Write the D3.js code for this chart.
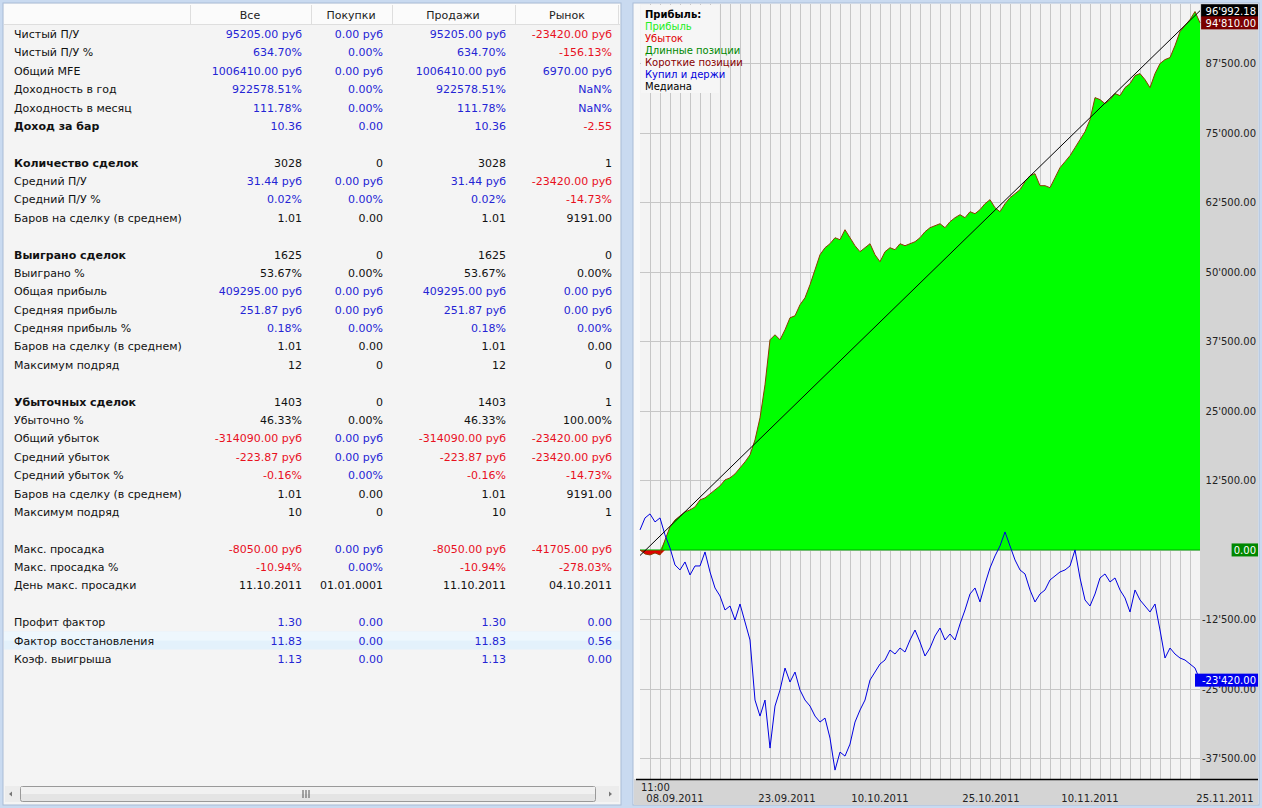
<!DOCTYPE html>
<html><head><meta charset="utf-8">
<script src="https://cdn.jsdelivr.net/npm/d3@7"></script>
<style>body{margin:0;background:#c9daf0;}svg{display:block;font-family:"DejaVu Sans",Verdana,sans-serif;}</style>
</head><body><svg id="c" width="1262" height="808"></svg>
<script>
// ---------- table data ----------
const colHeaders = ["Все", "Покупки", "Продажи", "Рынок"];
const rowLabels = ["Чистый П/У","Чистый П/У %","Общий MFE","Доходность в год","Доходность в месяц","Доход за бар","",
 "Количество сделок","Средний П/У","Средний П/У %","Баров на сделку (в среднем)","",
 "Выиграно сделок","Выиграно %","Общая прибыль","Средняя прибыль","Средняя прибыль %","Баров на сделку (в среднем)","Максимум подряд","",
 "Убыточных сделок","Убыточно %","Общий убыток","Средний убыток","Средний убыток %","Баров на сделку (в среднем)","Максимум подряд","",
 "Макс. просадка","Макс. просадка %","День макс. просадки","",
 "Профит фактор","Фактор восстановления","Коэф. выигрыша"];
const boldRows = [5, 7, 12, 20];
const blackRows = [7, 10, 12, 13, 17, 18, 20, 21, 25, 26, 30];
const colAll = ["95205.00 руб","634.70%","1006410.00 руб","922578.51%","111.78%","10.36","",
 "3028","31.44 руб","0.02%","1.01","",
 "1625","53.67%","409295.00 руб","251.87 руб","0.18%","1.01","12","",
 "1403","46.33%","-314090.00 руб","-223.87 руб","-0.16%","1.01","10","",
 "-8050.00 руб","-10.94%","11.10.2011","",
 "1.30","11.83","1.13"];
const colBuy = ["0.00 руб","0.00%","0.00 руб","0.00%","0.00%","0.00","",
 "0","0.00 руб","0.00%","0.00","",
 "0","0.00%","0.00 руб","0.00 руб","0.00%","0.00","0","",
 "0","0.00%","0.00 руб","0.00 руб","0.00%","0.00","0","",
 "0.00 руб","0.00%","01.01.0001","",
 "0.00","0.00","0.00"];
const colSell = ["95205.00 руб","634.70%","1006410.00 руб","922578.51%","111.78%","10.36","",
 "3028","31.44 руб","0.02%","1.01","",
 "1625","53.67%","409295.00 руб","251.87 руб","0.18%","1.01","12","",
 "1403","46.33%","-314090.00 руб","-223.87 руб","-0.16%","1.01","10","",
 "-8050.00 руб","-10.94%","11.10.2011","",
 "1.30","11.83","1.13"];
const colMarket = ["-23420.00 руб","-156.13%","6970.00 руб","NaN%","NaN%","-2.55","",
 "1","-23420.00 руб","-14.73%","9191.00","",
 "0","0.00%","0.00 руб","0.00 руб","0.00%","0.00","0","",
 "1","100.00%","-23420.00 руб","-23420.00 руб","-14.73%","9191.00","1","",
 "-41705.00 руб","-278.03%","04.10.2011","",
 "0.00","0.56","0.00"];
const highlightRow = 33;

// ---------- chart data (half-day steps, 08.09.2011 .. 25.11.2011) ----------
const equity = [0,-720,-900,-540,-900,1800,4140,5400,6120,6840,7200,7740,9000,9360,10080,10800,11520,12600,12960,13680,
 14760,15840,17100,19800,23760,29700,37800,38700,37800,39600,41760,42120,44100,45360,47700,50400,53100,54360,55080,56160,
 55800,57600,56160,54720,53640,54360,55080,53100,51840,53640,54360,54000,55080,54720,55080,55440,56160,57240,57960,58320,
 58680,57960,59040,59760,60300,59760,60840,60480,61200,62280,63000,61560,60840,62280,63360,64080,64800,66240,67320,67680,
 65520,65520,65160,66960,68760,69840,70920,72360,73800,75240,77400,81360,81000,80280,81000,82080,81720,83160,83880,85320,
 85680,84600,83160,85680,87480,88200,88560,90720,93240,94320,95400,96840,94810];
const buyHold = [3600,5760,6480,5040,5760,2700,360,-2700,-3600,-2160,-4500,-2880,-2880,-360,-3960,-6840,-8280,-10800,-10080,-12600,
 -9720,-12960,-16200,-27000,-29880,-27000,-35640,-28080,-25200,-21240,-23760,-21960,-25200,-27000,-28080,-29880,-30960,-30240,-33840,-39600,
 -36360,-37080,-34920,-30960,-28800,-27000,-23400,-21960,-20520,-19800,-18000,-18720,-17640,-18360,-16200,-14400,-16560,-19080,-17640,-15480,
 -14040,-16200,-15120,-16200,-13320,-10800,-7920,-6840,-9360,-6120,-3240,-1080,720,3240,720,-1800,-3600,-4320,-7200,-9360,
 -7920,-7200,-5400,-4680,-3960,-3600,-2880,0,-5040,-9000,-10080,-7920,-5040,-4320,-5760,-5040,-7200,-8640,-11160,-7200,
 -9000,-10080,-11160,-9720,-14400,-19440,-17640,-18720,-19440,-19800,-20520,-21240,-23420];
const median = [-1000, 96992.18];
const yTicks = [-37500,-25000,-12500,0,12500,25000,37500,50000,62500,75000,87500];
const dateLabels = ["08.09.2011","23.09.2011","10.10.2011","25.10.2011","10.11.2011","25.11.2011"];
const dateTickPos = [3.5, 14.7, 24, 35.1, 45, 58.5];
const legendItems = [["Прибыль:","#000",true],["Прибыль","#22ee22",false],["Убыток","#e00000",false],
 ["Длинные позиции","#008800",false],["Короткие позиции","#880000",false],["Купил и держи","#0000dd",false],["Медиана","#000",false]];
const badges = [[96992.18,"96'992.18","#000"],[94810,"94'810.00","#7a0000"],[0,"0.00","#008800"],[-23420,"-23'420.00","#0000ee"]];

const svg = d3.select("#c");
// ---------- left panel ----------
svg.append("rect").attr("x",3).attr("y",3).attr("width",618).attr("height",802).attr("fill","#f4f4f4").attr("stroke","#a9bcd6");
svg.append("rect").attr("x",4).attr("y",4).attr("width",616).attr("height",20).attr("fill","#fbfbfb");
svg.append("line").attr("x1",4).attr("x2",620).attr("y1",24.5).attr("y2",24.5).attr("stroke","#dedede");
[190,311,392,515,618].forEach(x=>svg.append("line").attr("x1",x+.5).attr("x2",x+.5).attr("y1",5).attr("y2",24).attr("stroke","#dedede"));
const colCenters=[250,351,453,567], colRight=[302,383,506,612];
colHeaders.forEach((h,i)=>svg.append("text").attr("x",colCenters[i]).attr("y",19).attr("text-anchor","middle")
  .attr("font-size",11).attr("fill","#222").text(h));
const rowY = i => 34 + i*18.38;
svg.append("rect").attr("x",4).attr("y",rowY(highlightRow)-9).attr("width",616).attr("height",18).attr("fill","#e3f1fb");
svg.append("rect").attr("x",4).attr("y",rowY(highlightRow)-9).attr("width",616).attr("height",9).attr("fill","#eef7fd");
const cols=[colAll,colBuy,colSell,colMarket];
rowLabels.forEach((lab,i)=>{
  if(!lab) return;
  const g=svg.append("g").attr("font-size",11);
  g.append("text").attr("x",14).attr("y",rowY(i)+4).attr("fill","#111")
    .attr("font-weight",boldRows.includes(i)?"bold":"normal").text(lab);
  cols.forEach((c,j)=>{
    const v=c[i];
    const col = v.startsWith("-")?"#e8101e":(blackRows.includes(i)?"#111":"#2424d4");
    g.append("text").attr("x",colRight[j]).attr("y",rowY(i)+4).attr("text-anchor","end").attr("fill",col).text(v);
  });
});
// scrollbar
svg.append("rect").attr("x",5).attr("y",786).attr("width",614).attr("height",16).attr("fill","#ececec");
svg.append("rect").attr("x",20.5).attr("y",786.5).attr("width",575).attr("height",15).attr("rx",2).attr("fill","#e4e4e4").attr("stroke","#999");
svg.append("rect").attr("x",21).attr("y",787).attr("width",574).attr("height",7).attr("fill","#f1f1f1");
[303,306,309].forEach(x=>svg.append("line").attr("x1",x).attr("x2",x).attr("y1",790).attr("y2",798).attr("stroke","#555"));
svg.append("path").attr("d","M12,794 L9,791.5 L9,796.5 Z").attr("transform","rotate(180 10.5 794)").attr("fill","#777");
svg.append("path").attr("d","M612,794 L609,791.5 L609,796.5 Z").attr("fill","#777");

// ---------- chart panel ----------
svg.append("rect").attr("x",633).attr("y",3).attr("width",626).attr("height",802).attr("fill","#f8f8f8").attr("stroke","#a9bcd6");
const pl=640, pr=1200, pt=4, pb=779;
const x=d3.scaleLinear().domain([0,56]).range([pl,pr]);
const y=d3.scaleLinear().domain([-41200,98200]).range([pb,pt]);
svg.append("rect").attr("x",pl).attr("y",pt).attr("width",pr-pl).attr("height",pb-pt).attr("fill","#f3f3f3");
svg.append("rect").attr("x",pr).attr("y",pt).attr("width",1258-pr).attr("height",pb-pt).attr("fill","#d4d4d4");
svg.append("rect").attr("x",634).attr("y",pb).attr("width",624).attr("height",805-pb).attr("fill","#d4d4d4");
// grid
svg.append("g").selectAll("line").data(d3.range(1,56)).join("line")
  .attr("x1",d=>Math.round(x(d))+.5).attr("x2",d=>Math.round(x(d))+.5).attr("y1",pt).attr("y2",pb).attr("stroke","#c6c6c6");
svg.append("g").selectAll("line").data(yTicks).join("line")
  .attr("x1",pl).attr("x2",pr).attr("y1",d=>Math.round(y(d))+.5).attr("y2",d=>Math.round(y(d))+.5).attr("stroke","#c6c6c6");
// legend backing
svg.append("rect").attr("x",641).attr("y",5).attr("width",78).attr("height",88).attr("fill","#f6f6f6");
// areas
const xi=(d,i)=>x(i*0.5);
svg.append("path").datum(equity).attr("fill","#00ff00")
  .attr("d",d3.area().x(xi).y0(y(0)).y1(d=>y(Math.max(d,0))));
svg.append("path").datum(equity).attr("fill","#e00000")
  .attr("d",d3.area().x(xi).y0(y(0)).y1(d=>y(Math.min(d,0))));
svg.append("line").attr("x1",pl).attr("x2",pr).attr("y1",y(0)).attr("y2",y(0)).attr("stroke","#00b000");
svg.append("path").datum(equity).attr("fill","none").attr("stroke","#8a3c00").attr("stroke-width",1)
  .attr("d",d3.line().x(xi).y(d=>y(d)));
svg.append("path").datum(buyHold).attr("fill","none").attr("stroke","#0000e0").attr("stroke-width",1)
  .attr("d",d3.line().x(xi).y(d=>y(d)));
svg.append("line").attr("x1",x(0)).attr("y1",y(median[0])).attr("x2",x(56)).attr("y2",y(median[1]))
  .attr("stroke","#000").attr("stroke-width",1);
// legend
legendItems.forEach((d,i)=>svg.append("text").attr("x",645).attr("y",18+i*12).attr("font-size",10)
  .attr("font-weight",d[2]?"bold":"normal").attr("fill",d[1]).text(d[0]));
// y axis labels
const fmt=v=>{const s=d3.format(",.2f")(v).replace(/,/g,"'");return s.replace("−","-");};
svg.append("g").selectAll("text").data(yTicks).join("text").attr("x",1256).attr("y",d=>y(d)+4)
  .attr("text-anchor","end").attr("font-size",10).attr("fill","#222").text(d=>fmt(d));
badges.forEach(b=>{
  const w = b[1].length*6.1+2;
  svg.append("rect").attr("x",1258-w).attr("y",y(b[0])-6.5).attr("width",w).attr("height",13).attr("fill",b[2]);
  svg.append("text").attr("x",1256).attr("y",y(b[0])+4).attr("text-anchor","end").attr("font-size",10).attr("fill","#fff").text(b[1]);
});
// x axis
svg.append("line").attr("x1",636).attr("x2",1258).attr("y1",pb+.5).attr("y2",pb+.5).attr("stroke","#000").attr("stroke-width",1.5);
svg.append("text").attr("x",641).attr("y",791).attr("font-size",10).attr("fill","#222").text("11:00");
svg.append("g").selectAll("text").data(dateLabels).join("text").attr("x",(d,i)=>x(dateTickPos[i])).attr("y",802)
  .attr("text-anchor","middle").attr("font-size",10).attr("fill","#222").text(d=>d);
</script></body></html>
